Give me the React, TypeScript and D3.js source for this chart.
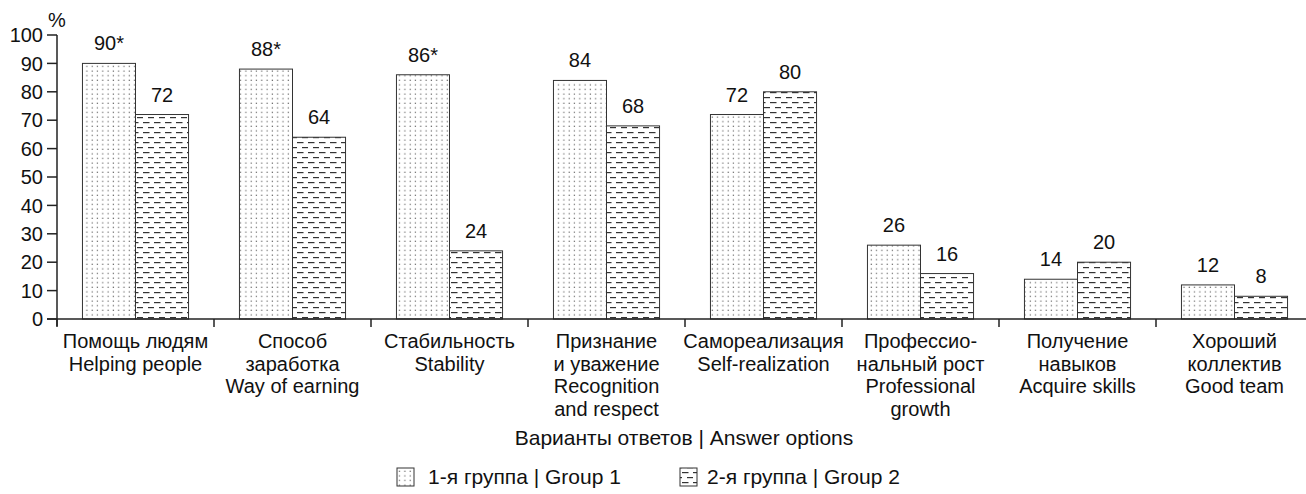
import React from "react";
import * as d3 from "d3";

const categoriesRu = [
  ["Помощь людям"],
  ["Способ", "заработка"],
  ["Стабильность"],
  ["Признание", "и уважение"],
  ["Самореализация"],
  ["Профессио-", "нальный рост"],
  ["Получение", "навыков"],
  ["Хороший", "коллектив"],
];
const categoriesEn = [
  ["Helping people"],
  ["Way of earning"],
  ["Stability"],
  ["Recognition", "and respect"],
  ["Self-realization"],
  ["Professional", "growth"],
  ["Acquire skills"],
  ["Good team"],
];
const group1 = [90, 88, 86, 84, 72, 26, 14, 12];
const group2 = [72, 64, 24, 68, 80, 16, 20, 8];
const group1Labels = ["90*", "88*", "86*", "84", "72", "26", "14", "12"];
const group2Labels = ["72", "64", "24", "68", "80", "16", "20", "8"];
const yTicks = [0, 10, 20, 30, 40, 50, 60, 70, 80, 90, 100];
const seriesNames = ["1-я группа | Group 1", "2-я группа | Group 2"];
const xTitle = "Варианты ответов | Answer options";

const W = 1306;
const H = 494;
const left = 57;
const step = 157;
const font = "Arial, 'Liberation Sans', sans-serif";
const axisColor = "#222";

export default function App() {
  const idx = categoriesRu.map((_, i) => String(i));
  const x = d3.scaleBand().domain(idx).range([left, left + step * idx.length]).padding(0);
  const sub = d3.scaleBand().domain(["g1", "g2"]).range([0, x.bandwidth()]).paddingInner(0).paddingOuter(0.48);
  const y = d3.scaleLinear().domain([0, 100]).range([319, 35]);
  const series = [
    { key: "g1", values: group1, labels: group1Labels, fill: "url(#dots)" },
    { key: "g2", values: group2, labels: group2Labels, fill: "url(#dashes)" },
  ];
  const lineH = 22.5;
  return (
    <svg width={W} height={H} style={{ position: "absolute", left: 0, top: 0, background: "#fff" }} fontFamily={font}>
      <defs>
        <pattern id="dots" patternUnits="userSpaceOnUse" width="5.3" height="4.6">
          <rect x="1.5" y="1.5" width="1.2" height="1.2" fill="#666" />
        </pattern>
        <pattern id="dashes" patternUnits="userSpaceOnUse" width="11" height="10">
          <rect x="0" y="2" width="6.5" height="1.2" fill="#333" />
          <rect x="5" y="7" width="6.5" height="1.2" fill="#333" />
        </pattern>
      </defs>
      <rect x={0} y={0} width={W} height={H} fill="#fff" />
      {/* bars */}
      {idx.map((c, i) =>
        series.map((s) => {
          const bx = (x(c) as number) + (sub(s.key) as number);
          const by = y(s.values[i]);
          return (
            <g key={c + s.key}>
              <rect x={bx} y={by} width={sub.bandwidth()} height={y(0) - by} fill="#fff" />
              <rect x={bx} y={by} width={sub.bandwidth()} height={y(0) - by} fill={s.fill} stroke="#333" strokeWidth={1} />
              <text x={bx + sub.bandwidth() / 2} y={by - 13} textAnchor="middle" fontSize={20} fill="#111">
                {s.labels[i]}
              </text>
            </g>
          );
        })
      )}
      {/* y axis */}
      <line x1={left} x2={left} y1={y(100)} y2={326} stroke={axisColor} strokeWidth={1.5} />
      {yTicks.map((t) => (
        <g key={t}>
          <line x1={47} x2={left} y1={y(t)} y2={y(t)} stroke={axisColor} strokeWidth={1.5} />
          <text x={43} y={y(t)} dy="0.36em" textAnchor="end" fontSize={20} fill="#111">
            {t}
          </text>
        </g>
      ))}
      <text x={48} y={27} fontSize={20} fill="#111">%</text>
      {/* x axis */}
      <line x1={47} x2={left + step * idx.length} y1={y(0)} y2={y(0)} stroke={axisColor} strokeWidth={1.5} />
      {d3.range(idx.length + 1).map((k) => (
        <line key={k} x1={left + k * step} x2={left + k * step} y1={y(0)} y2={327} stroke={axisColor} strokeWidth={1.5} />
      ))}
      {idx.map((c, i) => {
        const lines = [...categoriesRu[i], ...categoriesEn[i]];
        const cx = (x(c) as number) + x.bandwidth() / 2;
        return (
          <text key={c} textAnchor="middle" fontSize={20} fill="#111">
            {lines.map((l, j) => (
              <tspan key={j} x={cx} y={348 + j * lineH}>
                {l}
              </tspan>
            ))}
          </text>
        );
      })}
      <text x={684} y={445} textAnchor="middle" fontSize={21} fill="#111">
        {xTitle}
      </text>
      {/* legend */}
      {[
        { sx: 397, tx: 428, fill: "url(#dots)", name: seriesNames[0] },
        { sx: 680, tx: 707, fill: "url(#dashes)", name: seriesNames[1] },
      ].map((l) => (
        <g key={l.name}>
          <rect x={l.sx} y={468} width={17} height={18} fill="#fff" />
          <rect x={l.sx} y={468} width={17} height={18} fill={l.fill} stroke="#333" strokeWidth={1} />
          <text x={l.tx} y={484} fontSize={21} fill="#111">
            {l.name}
          </text>
        </g>
      ))}
    </svg>
  );
}
